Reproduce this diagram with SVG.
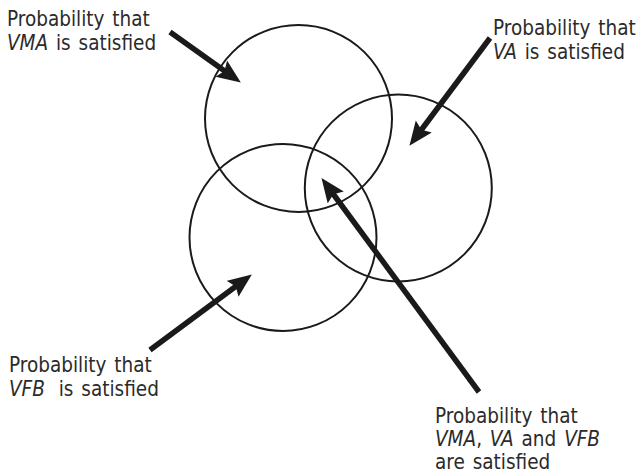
<svg xmlns="http://www.w3.org/2000/svg" width="641" height="476" viewBox="0 0 641 476">
<defs>
<marker id="ah" markerUnits="userSpaceOnUse" markerWidth="26" markerHeight="22" refX="8" refY="10" orient="auto" viewBox="0 0 26 22">
<path d="M0,0 L24,10 L0,20 L4,10 z" fill="#1a1a1a"/>
</marker>
<style>
.c{fill:none;stroke:#1a1a1a;stroke-width:2}
.a{stroke:#1a1a1a;stroke-width:5.5;fill:none;marker-end:url(#ah)}
.t{font-family:"DejaVu Sans Condensed","DejaVu Sans",sans-serif;font-stretch:condensed;font-size:20.5px;fill:#2b2b2b;word-spacing:2px}
.i{font-style:italic}
</style>
</defs>
<rect width="641" height="476" fill="#fff"/>
<g id="circle-vma"><circle class="c" cx="298.5" cy="118.5" r="93.5"/></g>
<g id="circle-va"><circle class="c" cx="398.3" cy="188" r="93.5"/></g>
<g id="circle-vfb"><circle class="c" cx="283" cy="237.5" r="93.5"/></g>
<g id="label-vma"><text class="t" x="7" y="26">Probability that</text><text class="t" x="7" y="50"><tspan class="i">VMA</tspan> is satisfied</text></g>
<g id="label-va"><text class="t" x="493" y="35">Probability that</text><text class="t" x="493" y="59"><tspan class="i">VA</tspan> is satisfied</text></g>
<g id="label-vfb"><text class="t" x="9" y="372">Probability that</text><text class="t" x="9" y="396"><tspan class="i">VFB</tspan><tspan dx="6"> is satisfied</tspan></text></g>
<g id="label-all"><text class="t" x="435" y="423">Probability that</text><text class="t" x="435" y="446"><tspan class="i">VMA</tspan>, <tspan class="i">VA</tspan> and <tspan class="i">VFB</tspan></text><text class="t" x="435" y="469">are satisfied</text></g>
<g id="connectors">
<line class="a" x1="170" y1="32" x2="227.8" y2="73.3"/>
<line class="a" x1="490" y1="38" x2="419" y2="133"/>
<line class="a" x1="150" y1="350" x2="239" y2="284"/>
<line class="a" x1="479" y1="392" x2="331" y2="191"/>
</g>
</svg>
